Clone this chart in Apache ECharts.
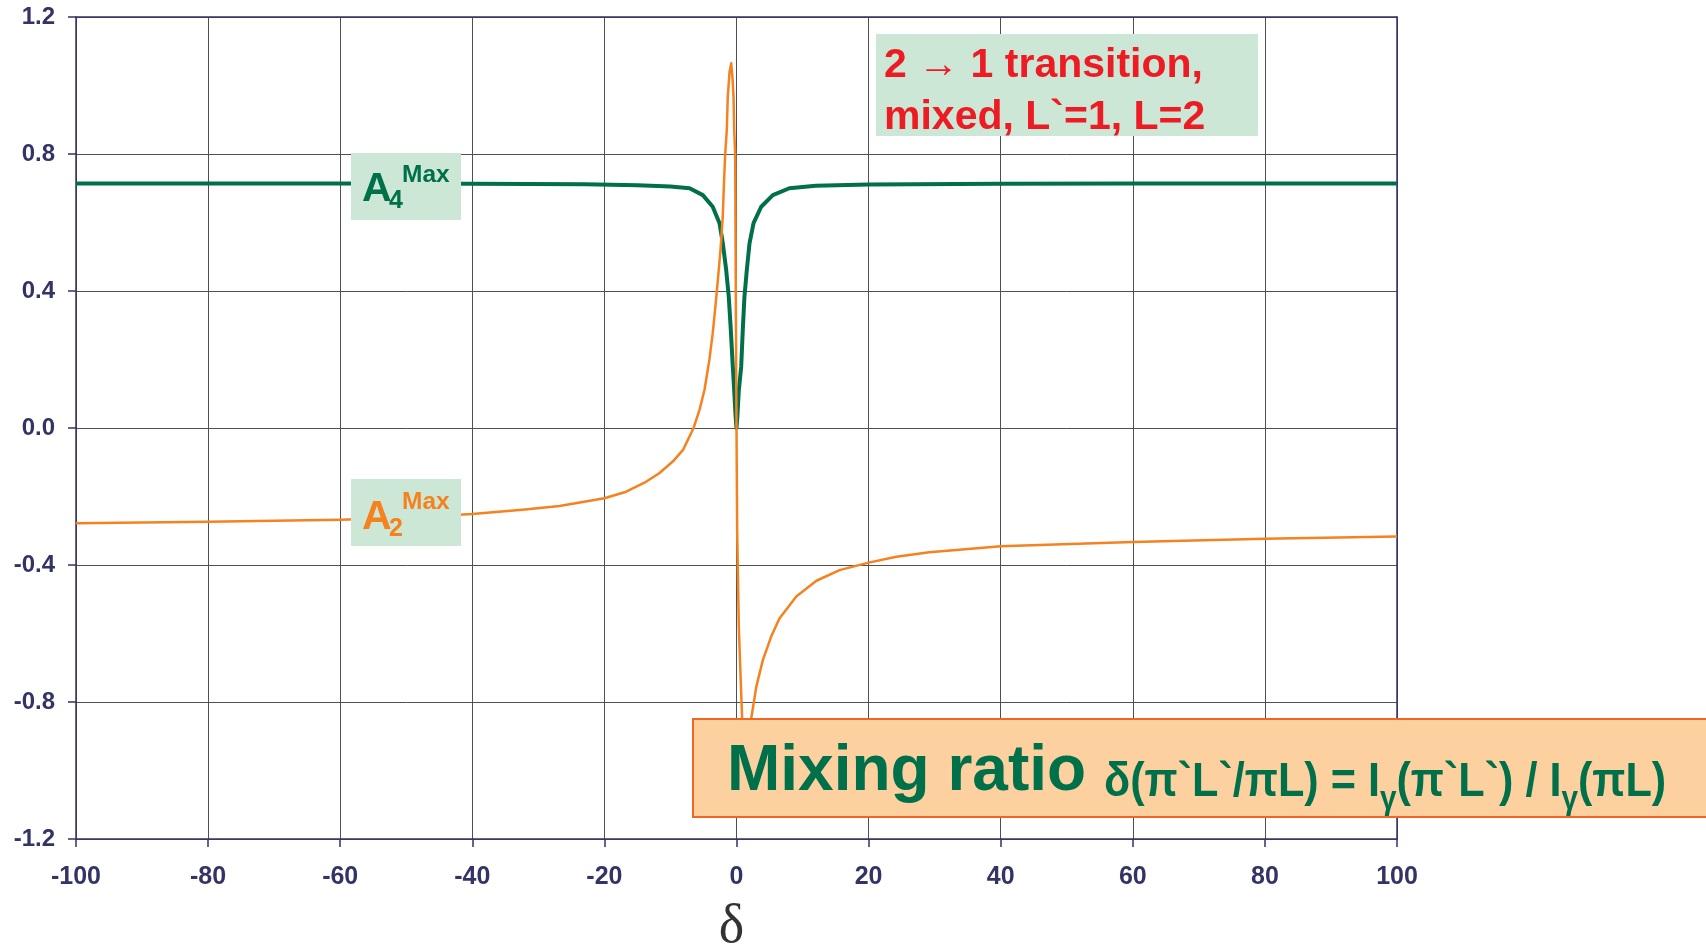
<!DOCTYPE html>
<html><head><meta charset="utf-8">
<script src="https://cdn.jsdelivr.net/npm/echarts@6/dist/echarts.min.js"></script>
<style>html,body{margin:0;padding:0;background:#fff}#c{width:1706px;height:947px}</style>
</head><body><div id="c"></div>
<script>
// A4 Max curve
const deltaA4 = [-100, -60, -40, -23, -15, -10, -7.1, -5.1, -3.6, -2.57, -2.07, -1.56, -1.17, -0.86, -0.56, -0.35, -0.15, 0, 0.15, 0.35, 0.71, 0.95, 1.2, 1.56, 1.97, 2.58, 3.74, 5.5, 8, 12, 20, 40, 60, 100];
const a4Max   = [0.714, 0.714, 0.713, 0.712, 0.709, 0.705, 0.700, 0.680, 0.646, 0.598, 0.539, 0.461, 0.383, 0.286, 0.179, 0.11, 0.04, 0.0, 0.04, 0.11, 0.179, 0.286, 0.383, 0.461, 0.539, 0.598, 0.646, 0.680, 0.700, 0.707, 0.711, 0.713, 0.714, 0.714];
// A2 Max curve
const deltaA2 = [-100, -80, -60, -50, -40, -32, -26.8, -20, -16.7, -13.7, -11.7, -9.65, -8.1, -6.5, -5.6, -4.85, -4.1, -3.6, -3.2, -2.83, -2.42, -2.08, -1.9, -1.71, -1.47, -1.32, -1.05, -0.8, -0.6, -0.45, -0.35, -0.2, -0.12, 0, 0.1, 0.35, 0.7, 0.9, 1.2, 1.5, 1.8, 2.2, 3.0, 4.0, 5.25, 6.5, 9.05, 12.1, 15.6, 20, 24.2, 29.2, 40, 60, 80, 100];
const a2Max   = [-0.278, -0.274, -0.268, -0.262, -0.251, -0.238, -0.228, -0.205, -0.186, -0.157, -0.132, -0.098, -0.064, 0.0, 0.053, 0.111, 0.2, 0.277, 0.354, 0.43, 0.52, 0.617, 0.714, 0.8, 0.87, 0.967, 1.04, 1.065, 1.02, 0.967, 0.87, 0.8, 0.44, 0.0, -0.3, -0.58, -0.77, -0.87, -0.97, -1.0, -0.95, -0.852, -0.755, -0.677, -0.609, -0.556, -0.492, -0.446, -0.415, -0.393, -0.376, -0.363, -0.345, -0.333, -0.323, -0.317];

const navy = '#333366';
const gridGray = '#505050';
const green = '#00704a';
const orange = '#f5821f';
const F = "'Liberation Sans', Arial, Helvetica, sans-serif";

const chart = echarts.init(document.getElementById('c'), null, {renderer: 'canvas'});
chart.setOption({
  animation: false,
  backgroundColor: '#ffffff',
  grid: {left: 76, top: 17, right: 309, bottom: 108, containLabel: false, outerBoundsMode: 'none'},
  xAxis: [{
    type: 'value', min: -100, max: 100, interval: 20,
    axisLine: {show: true, onZero: false, lineStyle: {color: navy, width: 1.5}},
    axisTick: {show: true, length: 8, lineStyle: {color: navy, width: 1.5}},
    axisLabel: {color: navy, fontSize: 25, fontWeight: 'bold', fontFamily: F, margin: 26},
    splitLine: {show: true, lineStyle: {color: gridGray, width: 1}},
    name: 'δ', nameLocation: 'middle', nameGap: 89,
    nameTextStyle: {fontFamily: "'Liberation Serif', 'Times New Roman', serif", fontSize: 54, color: '#333333', verticalAlign: 'middle', padding: [0, 10, 0, 0]}
  }, {
    type: 'value', min: -100, max: 100, position: 'top',
    axisLine: {show: true, onZero: false, lineStyle: {color: navy, width: 1.5}},
    axisTick: {show: false}, axisLabel: {show: false}, splitLine: {show: false}
  }],
  yAxis: [{
    type: 'value', min: -1.2, max: 1.2, interval: 0.4,
    axisLine: {show: true, onZero: false, lineStyle: {color: navy, width: 1.5}},
    axisTick: {show: true, length: 8, lineStyle: {color: navy, width: 1.5}},
    axisLabel: {color: navy, fontSize: 24, fontWeight: 'bold', fontFamily: F, margin: 21,
      formatter: v => v.toFixed(1)},
    splitLine: {show: true, lineStyle: {color: gridGray, width: 1}}
  }, {
    type: 'value', min: -1.2, max: 1.2, position: 'right',
    axisLine: {show: true, onZero: false, lineStyle: {color: navy, width: 1.5}},
    axisTick: {show: false}, axisLabel: {show: false}, splitLine: {show: false}
  }],
  series: [{
    name: 'A4 Max', type: 'line', xAxisIndex: 0, yAxisIndex: 0,
    data: deltaA4.map((d, i) => [d, a4Max[i]]),
    showSymbol: false, smooth: false,
    lineStyle: {color: green, width: 4, join: 'round'}, z: 3
  }, {
    name: 'A2 Max', type: 'line', xAxisIndex: 0, yAxisIndex: 0,
    data: deltaA2.map((d, i) => [d, a2Max[i]]),
    showSymbol: false, smooth: false,
    lineStyle: {color: orange, width: 2.5, join: 'round'}, z: 4
  }],
  graphic: [
    // A4 label
    {type: 'rect', z: 100, shape: {x: 351, y: 153, width: 110, height: 67}, style: {fill: '#cde7d6'}},
    {type: 'text', z: 101, style: {text: 'A', x: 362, y: 190, font: "bold 41px " + F, fill: green, verticalAlign: 'middle', align: 'left'}},
    {type: 'text', z: 101, style: {text: '4', x: 389, y: 201, font: "bold 25px " + F, fill: green, verticalAlign: 'middle', align: 'left'}},
    {type: 'text', z: 101, style: {text: 'Max', x: 402, y: 175, font: "bold 24.5px " + F, fill: green, verticalAlign: 'middle', align: 'left'}},
    // A2 label
    {type: 'rect', z: 100, shape: {x: 351, y: 479, width: 110, height: 67}, style: {fill: '#cde7d6'}},
    {type: 'text', z: 101, style: {text: 'A', x: 362, y: 518, font: "bold 41px " + F, fill: orange, verticalAlign: 'middle', align: 'left'}},
    {type: 'text', z: 101, style: {text: '2', x: 389, y: 529, font: "bold 25px " + F, fill: orange, verticalAlign: 'middle', align: 'left'}},
    {type: 'text', z: 101, style: {text: 'Max', x: 402, y: 502, font: "bold 24.5px " + F, fill: orange, verticalAlign: 'middle', align: 'left'}},
    // title box
    {type: 'rect', z: 100, shape: {x: 876, y: 34, width: 382, height: 102}, style: {fill: '#cde7d6'}},
    {type: 'text', z: 101, style: {text: '2 → 1 transition,\nmixed, L`=1, L=2', x: 884, y: 40, font: "bold 41px " + F, lineHeight: 52, fill: '#ed1c24', verticalAlign: 'top', align: 'left'}},
    // mixing ratio box
    {type: 'rect', z: 100, shape: {x: 693, y: 719, width: 1020, height: 98}, style: {fill: '#fdd19f', stroke: '#f26522', lineWidth: 2}},
    {type: 'text', z: 101, style: {text: 'Mixing ratio', x: 727, y: 772, font: "bold 64px " + F, fill: green, verticalAlign: 'middle', align: 'left'}},
    {type: 'text', z: 101, x: 1104, y: 783, scaleX: 0.9, scaleY: 1, style: {
      text: '{m|δ(π`L`/πL) = I}{s|γ}{m|(π`L`) / I}{s|γ}{m|(πL)}', x: 0, y: 0, verticalAlign: 'middle', align: 'left',
      rich: {
        m: {fontFamily: F, fontWeight: 'bold', fontSize: 48, lineHeight: 66, fill: green, color: green},
        s: {fontFamily: F, fontWeight: 'bold', fontSize: 33, lineHeight: 33, verticalAlign: 'bottom', fill: green, color: green}
      }}}
  ]
});
</script>
</body></html>
